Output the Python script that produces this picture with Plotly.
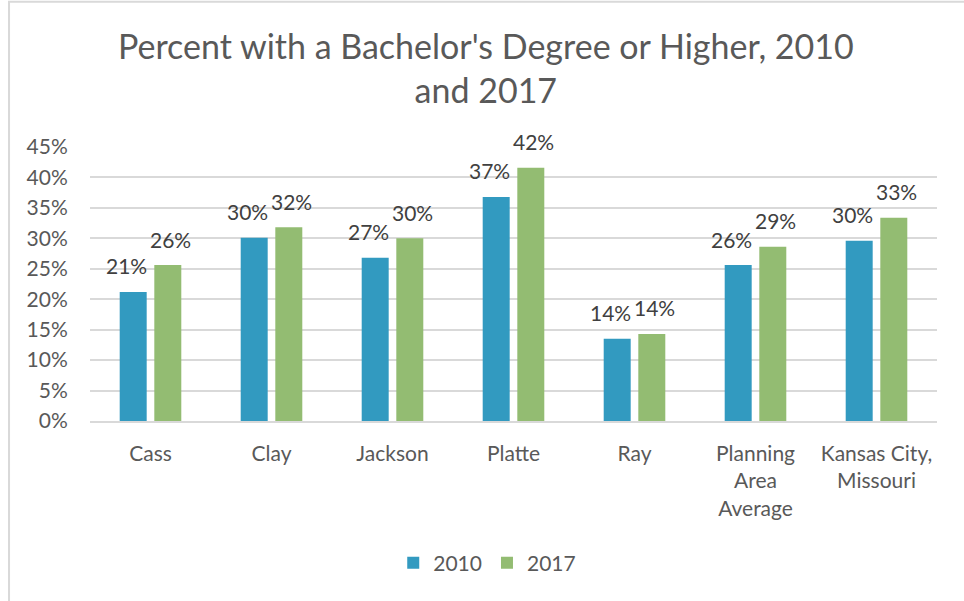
import plotly.graph_objects as go

# Share of adults with a bachelor's degree or higher
areas = ["Cass", "Clay", "Jackson", "Platte", "Ray",
         "Planning<br>Area<br>Average", "Kansas City,<br>Missouri"]
pct_2010 = [0.212, 0.301, 0.268, 0.368, 0.135, 0.256, 0.296]
pct_2017 = [0.256, 0.318, 0.300, 0.416, 0.143, 0.286, 0.334]
series_names = ["2010", "2017"]
y_ticks = [0, 0.05, 0.10, 0.15, 0.20, 0.25, 0.30, 0.35, 0.40, 0.45]

BLUE = "#329AC0"
GREEN = "#93BC72"
FONT = "Lato"
TEXT_GREY = "#595959"
LABEL_GREY = "#404040"

fig = go.Figure()
for name, vals, color in [(series_names[0], pct_2010, BLUE),
                          (series_names[1], pct_2017, GREEN)]:
    fig.add_trace(go.Bar(name=name, x=areas, y=vals,
                         marker=dict(color=color, line=dict(width=0))))

# Value labels above each bar, nudged apart so neighbours don't collide
for vals, shift in [(pct_2010, -24), (pct_2017, 20)]:
    for cat, v in zip(areas, vals):
        fig.add_annotation(x=cat, y=v, text=f"{v:.0%}", showarrow=False,
                           xshift=shift, yshift=26, yanchor="middle",
                           font=dict(family=FONT, size=21, color=LABEL_GREY))

# Light outer frame of the chart
fig.add_shape(type="rect", xref="paper", yref="paper",
              x0=-0.0956, x1=1.2, y0=-1.0, y1=1.530,
              line=dict(color="#D9D9D9", width=2), fillcolor="rgba(0,0,0,0)",
              layer="below")

fig.update_layout(
    width=964, height=601,
    margin=dict(l=90, r=27, t=147, b=180),
    paper_bgcolor="white", plot_bgcolor="white",
    barmode="group", bargap=0.428, bargroupgap=0.22,
    title=dict(text="Percent with a Bachelor's Degree or Higher, 2010<br>and 2017",
               x=0.504, xanchor="center", xref="container",
               y=0.902, yanchor="top", yref="container",
               font=dict(family=FONT, size=34, color=TEXT_GREY)),
    font=dict(family=FONT, color=TEXT_GREY),
    legend=dict(orientation="h", x=0.469, xanchor="center",
                y=-0.519, yanchor="middle",
                font=dict(family=FONT, size=21, color=TEXT_GREY),
                itemwidth=30, tracegroupgap=0),
    showlegend=True,
)

fig.update_yaxes(range=[0, 0.45], tickvals=y_ticks, tickformat=".0%",
                 showgrid=True, gridcolor="#D9D9D9", gridwidth=1.5,
                 zeroline=False, showline=False,
                 ticks="outside", ticklen=17, tickcolor="rgba(0,0,0,0)",
                 tickfont=dict(family=FONT, size=21, color=TEXT_GREY))
fig.update_xaxes(showgrid=False, showline=True, linecolor="#D9D9D9", linewidth=1.5,
                 ticks="outside", ticklen=13, tickcolor="rgba(0,0,0,0)",
                 tickfont=dict(family=FONT, size=21, color=TEXT_GREY))

fig.write_html("out.html")
